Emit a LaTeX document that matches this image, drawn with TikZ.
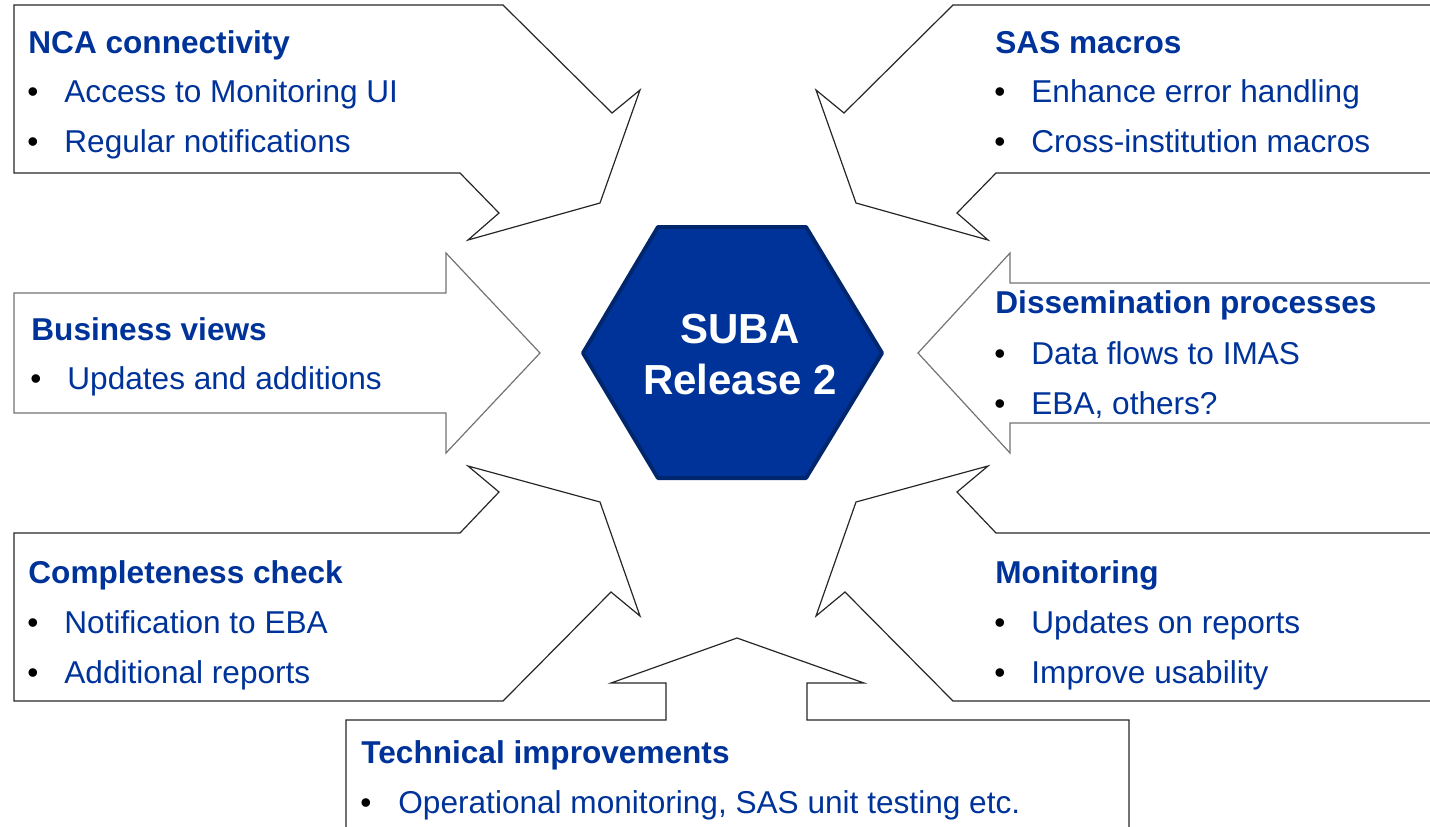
\documentclass[tikz,border=0pt]{standalone}
\usepackage{fontspec}
\setmainfont{Liberation Sans}
\definecolor{subablue}{RGB}{0,51,153}
\definecolor{subaedge}{RGB}{0,38,110}
\tikzset{
  outline/.style={draw=black!85, line width=0.6pt, line join=miter},
  softline/.style={draw=black!55, line width=0.6pt, line join=miter},
  heading/.style={anchor=base west, inner sep=0pt, text=subablue,
    font=\bfseries\fontsize{15.8}{19}\selectfont},
  entry/.style={anchor=base west, inner sep=0pt, text=subablue,
    font=\fontsize{15.8}{19}\selectfont},
  dot/.style={anchor=base, inner sep=0pt, text=black,
    font=\fontsize{15.8}{19}\selectfont},
  hexatext/.style={anchor=base, inner sep=0pt, text=white,
    font=\bfseries\fontsize{21}{25}\selectfont}
}
\begin{document}
\begin{tikzpicture}[x=0.5pt,y=-0.5pt]
\clip (0,0) rectangle (1430,826);
% arrows round the hexagon
\draw [outline] (14,5) -- (503,5) -- (612,113) -- (640,90) -- (600,203) -- (468,240) -- (499,213) -- (460,173) -- (14,173) -- cycle;
\draw [outline] (1445,5) -- (953,5) -- (844,113) -- (816,90) -- (856,203) -- (988,240) -- (957,213) -- (996,173) -- (1445,173);
\draw [softline] (14,293) -- (446,293) -- (446,253) -- (540,353) -- (446,453) -- (446,413) -- (14,413) -- cycle;
\draw [softline] (1445,283) -- (1010,283) -- (1010,253) -- (918,353) -- (1010,453) -- (1010,423) -- (1445,423);
\draw [outline] (468,466) -- (600,502) -- (640,616) -- (611,592) -- (503,701) -- (14,701) -- (14,533) -- (460,533) -- (499,492) -- cycle;
\draw [outline] (1445,533) -- (996,533) -- (957,492) -- (988,466) -- (856,502) -- (816,616) -- (845,592) -- (953,701) -- (1445,701);
\draw [outline] (346,840) -- (346,720) -- (666,720) -- (666,683) -- (611,683) -- (737,638) -- (864,683) -- (807,683) -- (807,720) -- (1129,720) -- (1129,840);
% hexagon
\draw [fill=subablue, draw=subaedge, line width=2pt, line join=round] (583,353) -- (658,227) -- (806,227) -- (882,353) -- (806,478) -- (658,478) -- cycle;
\node [hexatext] (suba) at (740,343) {SUBA};
\node [hexatext] (release) at (740,394) {Release 2};
% NCA connectivity
\node [heading] (nca) at (28,53) {NCA connectivity};
\node [dot] (nca1b) at (33,102) {•};
\node [entry] (nca1) at (64,102) {Access to Monitoring UI};
\node [dot] (nca2b) at (33,152) {•};
\node [entry] (nca2) at (64,152) {Regular notifications};
% SAS macros
\node [heading] (sas) at (995,53) {SAS macros};
\node [dot] (sas1b) at (1000,102) {•};
\node [entry] (sas1) at (1031,102) {Enhance error handling};
\node [dot] (sas2b) at (1000,152) {•};
\node [entry] (sas2) at (1031,152) {Cross-institution macros};
% Business views
\node [heading] (bus) at (31,340) {Business views};
\node [dot] (bus1b) at (36,389) {•};
\node [entry] (bus1) at (67,389) {Updates and additions};
% Dissemination processes
\node [heading] (dis) at (995,313) {Dissemination processes};
\node [dot] (dis1b) at (1000,364) {•};
\node [entry] (dis1) at (1031,364) {Data flows to IMAS};
\node [dot] (dis2b) at (1000,414) {•};
\node [entry] (dis2) at (1031,414) {EBA, others?};
% Completeness check
\node [heading] (com) at (28,583) {Completeness check};
\node [dot] (com1b) at (33,633) {•};
\node [entry] (com1) at (64,633) {Notification to EBA};
\node [dot] (com2b) at (33,683) {•};
\node [entry] (com2) at (64,683) {Additional reports};
% Monitoring
\node [heading] (mon) at (995,583) {Monitoring};
\node [dot] (mon1b) at (1000,633) {•};
\node [entry] (mon1) at (1031,633) {Updates on reports};
\node [dot] (mon2b) at (1000,683) {•};
\node [entry] (mon2) at (1031,683) {Improve usability};
% Technical improvements
\node [heading] (tec) at (361,763) {Technical improvements};
\node [dot] (tec1b) at (366,813) {•};
\node [entry] (tec1) at (398,813) {Operational monitoring, SAS unit testing etc.};
\end{tikzpicture}
\end{document}
